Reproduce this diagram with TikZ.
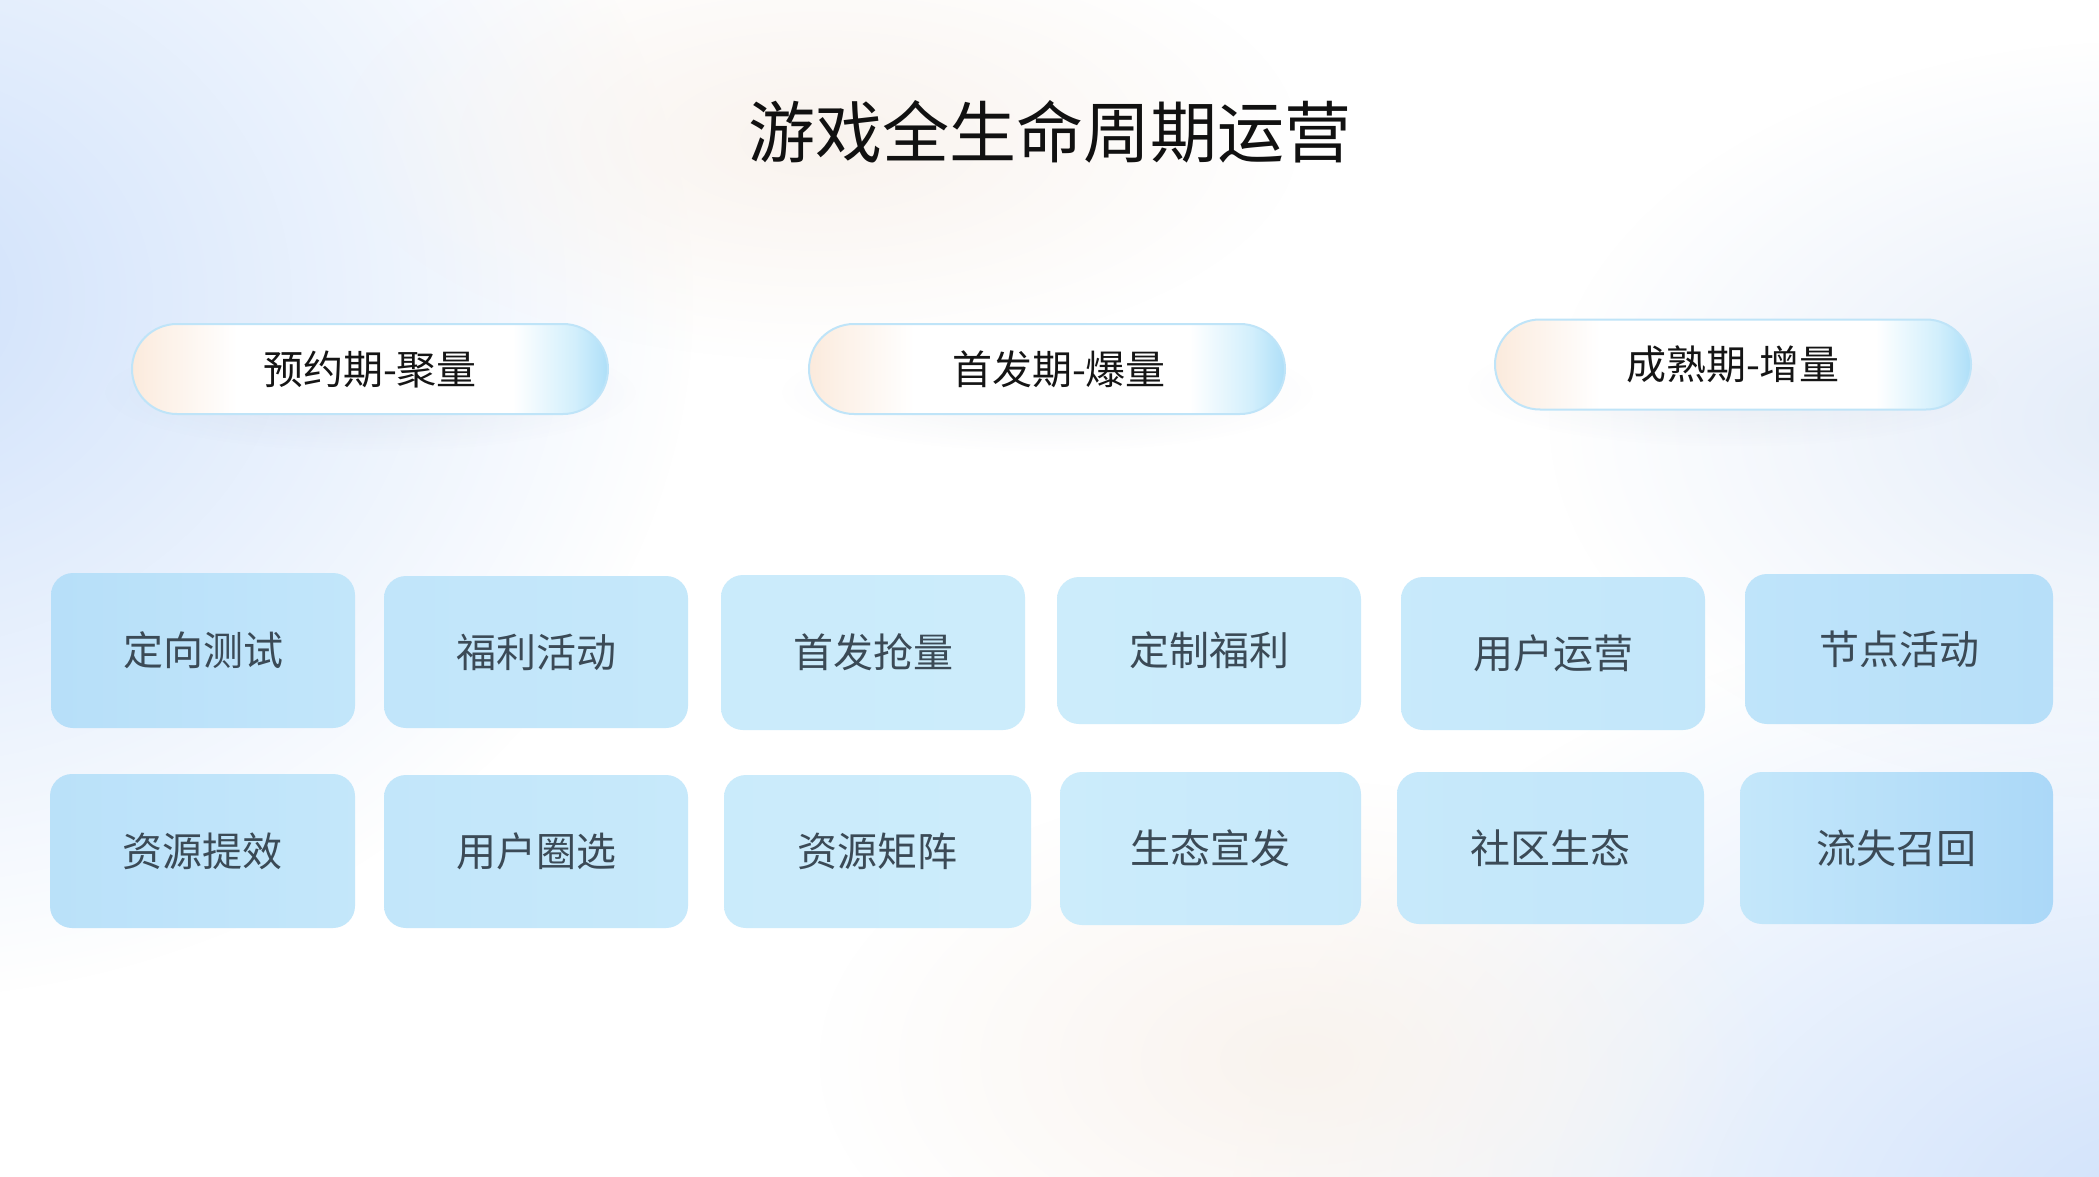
\documentclass[tikz,border=0pt]{standalone}
\usepackage{fontspec}
\setmainfont{Noto Sans CJK SC}
\usetikzlibrary{fadings}
\definecolor{bgblue}{HTML}{CFE1FB}
\definecolor{bgblue2}{HTML}{E3ECF9}
\definecolor{bgpeach}{HTML}{F9F3EE}
\definecolor{pillL}{HTML}{FBEADC}
\definecolor{pillR}{HTML}{D2EFFC}
\definecolor{pillRR}{HTML}{AEDFF8}
\definecolor{pillE}{HTML}{BFE4F8}
\definecolor{pillshadow}{HTML}{5A6E8C}
\definecolor{pilltext}{HTML}{151515}
\definecolor{titletext}{HTML}{111111}
\definecolor{tiletext}{HTML}{3B4A56}
\definecolor{tA}{HTML}{ABD8F8}
\definecolor{tB}{HTML}{CCECFB}
\pgfdeclarehorizontalshading{pillshading}{100bp}{color(0bp)=(pillL); color(25bp)=(pillL); color(28bp)=(pillL!70!white); color(36bp)=(white); color(65bp)=(white); color(71.5bp)=(pillR); color(75bp)=(pillRR); color(100bp)=(pillRR)}
\tikzfading[name=softfade, inner color=transparent!0, outer color=transparent!100]
\tikzset{
  pill/.style={rounded corners=45pt, minimum width=476pt, minimum height=90pt, inner sep=0pt,
    shade, shading=pillshading, draw=pillE, line width=2pt},
  pillshade/.style={pillshadow, opacity=0.09, path fading=softfade},
  pilllabel/.style={font=\fontsize{40}{48}\selectfont, text=pilltext, inner sep=0pt},
  tile/.style={rounded corners=22pt, minimum width=304pt, minimum height=153pt, inner sep=0pt,
    font=\fontsize{40}{48}\selectfont, text=tiletext},
  titlestyle/.style={font=\fontsize{67}{80}\selectfont, text=titletext, inner sep=0pt}
}
\begin{document}
\begin{tikzpicture}[x=1pt,y=-1pt]
\useasboundingbox (0,0) rectangle (2099,1177);
\fill[white] (0,0) rectangle (2099,1177);
\begin{scope}
  \clip (0,0) rectangle (2099,1177);
  \fill[bgblue, path fading=softfade] (-120,300) ellipse [x radius=820, y radius=700];
  \fill[bgblue, path fading=softfade] (2180,1230) ellipse [x radius=950, y radius=640];
  \fill[bgblue2, path fading=softfade] (2150,420) ellipse [x radius=600, y radius=380];
  \fill[bgpeach, path fading=softfade] (1300,1060) ellipse [x radius=480, y radius=280];
  \fill[bgpeach, path fading=softfade] (820,140) ellipse [x radius=480, y radius=220];
\end{scope}

\node[titlestyle] (title) at (1050,132) {游戏全生命周期运营};

\coordinate (s1) at (370,392);
\coordinate (s2) at (1047,392);
\coordinate (s3) at (1733,387);
\fill[pillshade] (s1) ellipse [x radius=270, y radius=60];
\fill[pillshade] (s2) ellipse [x radius=270, y radius=60];
\fill[pillshade] (s3) ellipse [x radius=270, y radius=60];

\node[pill] (p1) at (370,369) {};
\node[pill] (p2) at (1047,369) {};
\node[pill] (p3) at (1733,364.5) {};
\node[pilllabel] (l1) at (p1) {预约期-聚量};
\node[pilllabel, xshift=12pt] (l2) at (p2) {首发期-爆量};
\node[pilllabel] (l3) at (p3) {成熟期-增量};

\node[tile, minimum height=155pt, left color=tB!35!tA, right color=tB!70!tA] (a1) at (203,650.5) {定向测试};
\node[tile, minimum height=152pt, left color=tB!65!tA, right color=tB!80!tA] (a2) at (536,652) {福利活动};
\node[tile, minimum height=155pt, left color=tB!95!tA, right color=tB] (a3) at (873,652.5) {首发抢量};
\node[tile, minimum height=147pt, left color=tB, right color=tB!92!tA] (a4) at (1209,650.5) {定制福利};
\node[tile, minimum height=153pt, left color=tB!88!tA, right color=tB!72!tA] (a5) at (1553,653.5) {用户运营};
\node[tile, minimum width=308pt, minimum height=150pt, left color=tB!60!tA, right color=tB!35!tA] (a6) at (1899,649) {节点活动};

\node[tile, minimum width=305pt, minimum height=154pt, left color=tB!45!tA, right color=tB!75!tA] (b1) at (202.5,851) {资源提效};
\node[tile, left color=tB!70!tA, right color=tB!85!tA] (b2) at (536,851.5) {用户圈选};
\node[tile, minimum width=307pt, left color=tB!95!tA, right color=tB] (b3) at (877.5,851.5) {资源矩阵};
\node[tile, minimum width=301pt, left color=tB, right color=tB!82!tA] (b4) at (1210.5,848.5) {生态宣发};
\node[tile, minimum width=307pt, minimum height=152pt, left color=tB!85!tA, right color=tB!68!tA] (b5) at (1550.5,848) {社区生态};
\node[tile, minimum width=313pt, minimum height=152pt, left color=tB!75!tA, right color=tA] (b6) at (1896.5,848) {流失召回};
\end{tikzpicture}
\end{document}
